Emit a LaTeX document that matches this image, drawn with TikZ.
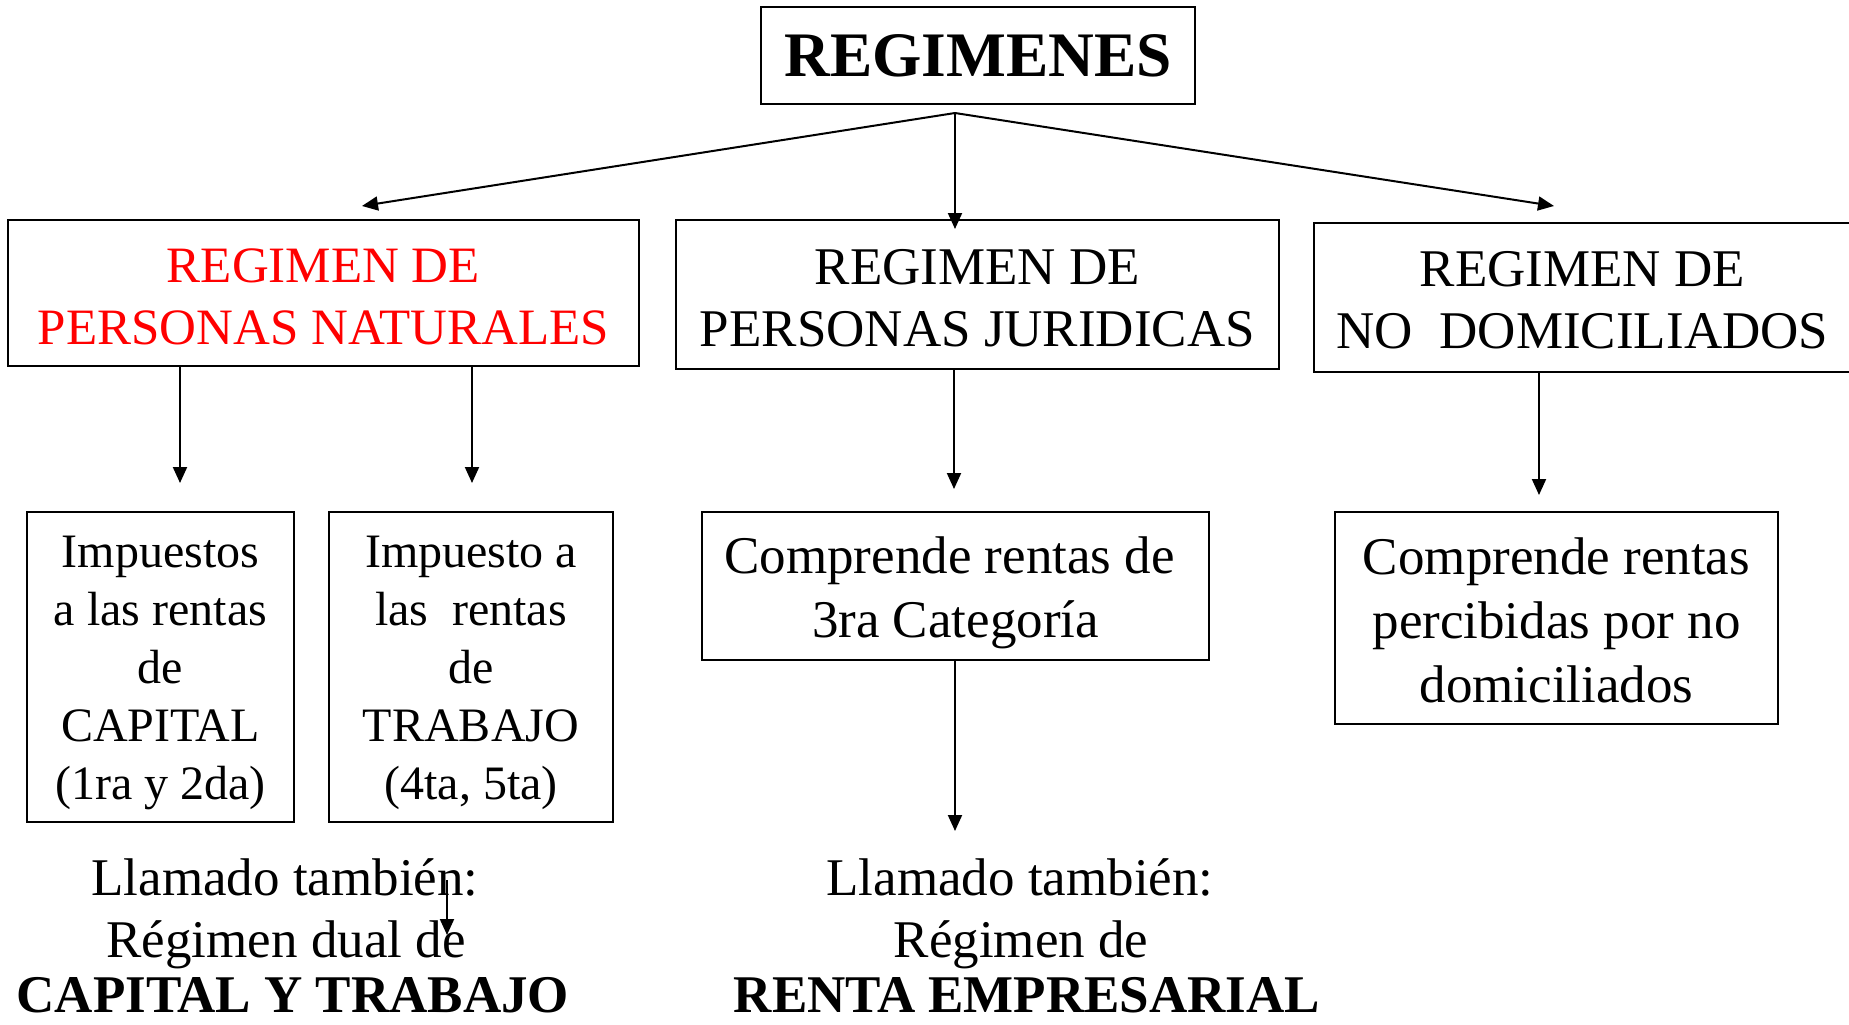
\documentclass[tikz,border=0pt]{standalone}
\usepackage{fontspec}
\setmainfont{Liberation Serif}
\usetikzlibrary{arrows.meta}
\newcommand{\mlines}[2]{\raisebox{#1}[0pt][0pt]{\begin{tabular}[t]{@{}c@{}}#2\end{tabular}}}
\begin{document}
\begin{tikzpicture}[x=0.5pt,y=-0.5pt,
  box/.style={draw,line width=1.1pt,inner sep=0pt},
  bigf/.style={font=\fontsize{26.5}{31}\selectfont},
  midf/.style={font=\fontsize{25.5}{31}\selectfont},
  smallf/.style={font=\fontsize{24}{29}\selectfont},
  compf/.style={font=\fontsize{26.5}{32}\selectfont},
  linetxt/.style={anchor=base,inner sep=0pt,font=\fontsize{26.5}{32}\selectfont},
  arr/.style={line width=1pt,-{Triangle[length=8pt,width=7pt]}}]
\useasboundingbox (0,0) rectangle (1849,1024);

\node[box,minimum width=217pt,minimum height=48.5pt,font=\bfseries\fontsize{31.7}{38}\selectfont] (top) at (978,55.5) {REGIMENES};

\node[box,midf,text=red,minimum width=315.5pt,minimum height=73pt] (b1) at (323.5,293) {\mlines{5.3pt}{REGIMEN DE\\PERSONAS NATURALES}};
\node[box,bigf,minimum width=301.5pt,minimum height=74.5pt] (b2) at (977.5,294.5) {\mlines{5.25pt}{REGIMEN DE\\PERSONAS JURIDICAS}};
\node[box,bigf,minimum width=268.5pt,minimum height=74.5pt] (b3) at (1582.5,297.5) {\mlines{5.75pt}{REGIMEN DE\\NO~ DOMICILIADOS}};

\node[box,smallf,minimum width=133.5pt,minimum height=155pt] (c1) at (160.5,667) {\mlines{49.75pt}{Impuestos\\a las rentas\\de\\CAPITAL\\(1ra y 2da)}};
\node[box,smallf,minimum width=142pt,minimum height=155pt] (c2) at (471,667) {\mlines{49.75pt}{Impuesto a\\las~ rentas\\de\\TRABAJO\\(4ta, 5ta)}};
\node[box,compf,minimum width=253.5pt,minimum height=74pt] (c3) at (955.5,586) {\mlines{6.35pt}{\hspace*{-6pt}Comprende rentas de\\3ra Categoría}};
\node[box,compf,minimum width=221.5pt,minimum height=106pt] (c4) at (1556.5,618) {\mlines{22pt}{Comprende rentas\\percibidas por no\\domiciliados}};

\coordinate (apex) at (955,113);
\coordinate (t1) at (362,206);
\coordinate (t2) at (955,229);
\coordinate (t3) at (1554,206);
\draw[arr] (apex) -- (t1);
\draw[arr] (apex) -- (t2);
\draw[arr] (apex) -- (t3);

\coordinate (u1) at (180,483);
\coordinate (u2) at (472,483);
\coordinate (u3) at (954,489);
\coordinate (u4) at (1539,495);
\coordinate (u5) at (955,831);
\draw[arr] (b1.south -| u1) -- (u1);
\draw[arr] (b1.south -| u2) -- (u2);
\draw[arr] (b2.south -| u3) -- (u3);
\draw[arr] (b3.south -| u4) -- (u4);
\draw[arr] (c3.south -| u5) -- (u5);

\node[linetxt] (la1) at (285,895) {Llamado también:};
\node[linetxt] (la2) at (286,957) {Régimen dual de};
\node[linetxt,font=\bfseries\fontsize{26.5}{32}\selectfont] (la3) at (293,1012) {CAPITAL Y TRABAJO};
\node[linetxt] (lb1) at (1020,895) {Llamado también:};
\node[linetxt] (lb2) at (1021,957) {Régimen de};
\node[linetxt,font=\bfseries\fontsize{26.5}{32}\selectfont] (lb3) at (1027,1012) {RENTA EMPRESARIAL};

\coordinate (s1) at (447,880);
\coordinate (s2) at (447,935);
\draw[arr] (s1) -- (s2);
\end{tikzpicture}
\end{document}
